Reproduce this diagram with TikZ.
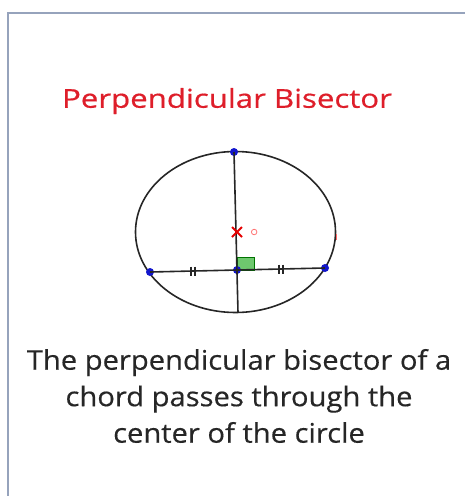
\documentclass[tikz,border=0pt]{standalone}
\usepackage{fontspec}
\setmainfont{Open Sans}
\newfontfamily\headfont{Open Sans}[FakeStretch=1.2, FakeBold=0.6]
\newfontfamily\bodyfont{Open Sans}[FakeStretch=1.08, FakeBold=0.4]
\usepackage{xcolor}
\usetikzlibrary{positioning,calc}
\definecolor{framegray}{RGB}{150,163,188}
\definecolor{titlered}{RGB}{222,30,42}
\definecolor{dotblue}{RGB}{18,22,205}
\definecolor{rightgreen}{RGB}{110,200,110}

\begin{document}
\begin{tikzpicture}[x=1pt, y=-1pt, line width=1.6pt,
  dot/.style={circle, fill=dotblue, inner sep=0pt, minimum size=8pt},
  title/.style={text=titlered, font=\headfont\fontsize{26}{30}\selectfont},
  caption/.style={align=center, font=\bodyfont\fontsize{27}{36.5}\selectfont, text=black!85}]
\useasboundingbox (0,0) rectangle (465,496);
\begin{scope}
\clip (0,0) rectangle (465,496);
\draw[framegray, line width=2pt] (8,13) rectangle (480,510);
\end{scope}
\node[title] (head) at (227,101) {Perpendicular Bisector};
% circle with chord and bisector
\draw[black!85] (235.5,232) ellipse [x radius=100, y radius=80.5];
\coordinate (bot) at (238,312.5);
\node[dot] (top) at (234,152) {};
\node[dot] (left) at (150,272) {};
\node[dot] (right) at (325,268) {};
\filldraw[fill=rightgreen, draw=green!45!black, line width=0.6pt] (237,257) rectangle (254,270);
\node[dot] (mid) at (237,270) {};
\draw[black!85] (top.center) -- (bot);
\draw[black!85] (left.center) -- (right.center);
% equal marks
\foreach \x/\y in {193/271, 281/269}
  \draw[black!85, line width=1.6pt] (\x-2,\y-4.5) -- (\x-2,\y+4.5) (\x+2,\y-4.5) -- (\x+2,\y+4.5);
% centre
\draw[red!90!black, line width=1.8pt] (232,227) -- (242,237) (232,237) -- (242,227);
\coordinate (ctr) at (237,232);
\node[circle, draw=red!55, line width=0.8pt, inner sep=0pt, minimum size=5.5pt, right=14pt of ctr] (ring) {};
\draw[red!60, line width=0.8pt] (336,234) -- (336,240);
\node[caption] (txt) at (239,396) {The perpendicular bisector of a\\chord passes through the\\center of the circle};
\end{tikzpicture}
\end{document}
